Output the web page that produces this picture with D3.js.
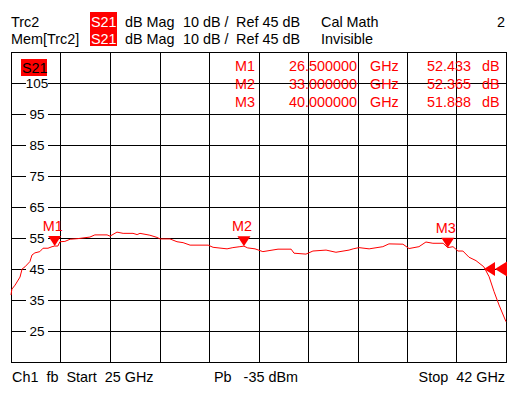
<!DOCTYPE html>
<html><head><meta charset="utf-8">
<script src="https://cdn.jsdelivr.net/npm/d3@7"></script>
<style>
body{margin:0;background:#fff;}
svg{display:block;font-family:"Liberation Sans",Arial,sans-serif;}
</style></head>
<body><svg id="c" width="512" height="396"></svg>
<script>
// ---- data ----
const freqGHz = [25.00,25.03,25.14,25.31,25.38,25.48,25.65,25.72,25.82,25.99,26.10,26.27,26.41,26.50,26.61,26.68,26.85,27.03,27.30,27.71,27.88,28.30,28.40,28.64,28.85,29.19,29.33,29.43,29.77,30.01,30.12,30.46,30.70,30.91,31.15,31.77,31.94,32.42,32.62,32.86,33.00,33.13,33.38,33.65,34.17,34.62,34.72,35.13,35.37,35.82,36.16,36.61,36.75,36.95,37.30,37.77,37.98,38.46,38.67,39.01,39.25,39.49,39.84,40.00,40.18,40.35,40.52,40.73,40.97,41.24,41.42,41.59,41.76,42.00];
const traceDb = [36.6,38.5,39.8,42.4,45.0,45.7,47.4,49.5,50.2,50.6,51.7,51.7,52.2,52.4,52.4,53.8,53.9,54.6,54.8,55.3,56.0,56.0,55.6,56.9,56.5,56.5,56.1,56.5,55.9,55.2,54.7,54.7,53.8,53.5,52.7,52.7,52.0,51.5,51.9,52.2,52.37,51.8,51.5,50.6,51.4,51.4,50.1,49.8,50.8,51.1,50.4,51.1,51.5,51.9,51.5,52.2,53.1,53.0,51.6,52.2,53.7,53.3,53.3,51.89,52.2,50.8,50.8,48.8,47.7,45.7,42.5,37.7,33.4,28.0];
const markerNames = ["M1","M2","M3"];
const markerFreq = [26.5,33.0,40.0];
const markerDb = [52.433,52.365,51.888];
const markerFreqText = ["26.500000","33.000000","40.000000"];
const markerDbText = ["52.433","52.365","51.888"];
const yTicks = [105,95,85,75,65,55,45,35,25];
const refLevel = 45;
const startGHz = 25, stopGHz = 42;

// ---- drawing ----
const svg = d3.select("#c");
const red = "#ff0000";
const x = d3.scaleLinear().domain([startGHz, stopGHz]).range([11, 506]);
const y = d3.scaleLinear().domain([15, 115]).range([362, 52]);
const fs = "14.4px";

// header
const hdr = svg.append("g").attr("font-size", fs);
[[27,"Trc2","Cal Math"],[44,"Mem[Trc2]","Invisible"]].forEach(([by,name,st])=>{
  hdr.append("text").attr("x",11).attr("y",by).text(name);
  hdr.append("rect").attr("x",90).attr("y",by-15).attr("width",27).attr("height",17).attr("fill",red);
  hdr.append("text").attr("x",91).attr("y",by).attr("fill","#fff").text("S21");
  hdr.append("text").attr("x",125).attr("y",by).text("dB Mag");
  hdr.append("text").attr("x",183).attr("y",by).text("10 dB /");
  hdr.append("text").attr("x",236).attr("y",by).text("Ref 45 dB");
  hdr.append("text").attr("x",321).attr("y",by).text(st);
});
hdr.append("text").attr("x",505).attr("y",27).attr("text-anchor","end").text("2");

// grid
const g = svg.append("g").attr("shape-rendering","crispEdges");
const vTicks = d3.range(0,11).map(i=>startGHz + i*(stopGHz-startGHz)/10);
g.selectAll("line.v").data(vTicks).join("line")
  .attr("x1",d=>Math.round(x(d))+0.5).attr("x2",d=>Math.round(x(d))+0.5)
  .attr("y1",y(115)).attr("y2",y(15)).attr("stroke","#000");
const hTicks = d3.range(15,116,10);
g.selectAll("line.h").data(hTicks).join("line")
  .attr("x1",x(startGHz)).attr("x2",x(stopGHz)+1)
  .attr("y1",d=>Math.round(y(d))+0.5).attr("y2",d=>Math.round(y(d))+0.5).attr("stroke","#000");

// y labels
const yl = svg.append("g").attr("font-size","13.5px");
yl.selectAll("rect").data(yTicks).join("rect")
  .attr("x",26).attr("y",d=>y(d)-3).attr("width",22).attr("height",6).attr("fill","#fff");
yl.selectAll("text").data(yTicks).join("text")
  .attr("x",37).attr("y",d=>y(d)+5).attr("text-anchor","middle").text(d=>d);

// S21 badge in plot
svg.append("rect").attr("x",21).attr("y",59).attr("width",26).attr("height",17).attr("fill",red);
svg.append("text").attr("x",22).attr("y",73).attr("font-size",fs).text("S21");

// marker table
const mt = svg.append("g").attr("font-size",fs).attr("fill",red);
markerNames.forEach((m,i)=>{
  const by = 71 + i*18;
  mt.append("text").attr("x",255).attr("y",by).attr("text-anchor","end").text(m);
  mt.append("text").attr("x",357).attr("y",by).attr("text-anchor","end").text(markerFreqText[i]);
  mt.append("text").attr("x",370).attr("y",by).text("GHz");
  mt.append("text").attr("x",471).attr("y",by).attr("text-anchor","end").text(markerDbText[i]);
  mt.append("text").attr("x",482).attr("y",by).text("dB");
});

// trace
const pts = freqGHz.map((f,i)=>[f,traceDb[i]]);
svg.append("path").datum(pts)
  .attr("d", d3.line().x(d=>x(d[0])).y(d=>y(d[1])))
  .attr("fill","none").attr("stroke",red).attr("stroke-width",1);

// markers
markerFreq.forEach((f,i)=>{
  const mx = x(f), my = y(markerDb[i]);
  svg.append("path").attr("d",`M${mx-6.5},${my-10}L${mx+6.5},${my-10}L${mx},${my}Z`).attr("fill",red);
  svg.append("text").attr("x",mx-2).attr("y",my-15).attr("text-anchor","middle")
    .attr("font-size",fs).attr("fill",red).text(markerNames[i]);
});

// reference level arrows
const ry = y(refLevel);
svg.append("path").attr("d",`M484,${ry}L495,${ry-7}L495,${ry+7}Z`).attr("fill",red);
svg.append("path").attr("d",`M495,${ry}L507,${ry-7.5}L507,${ry+7.5}Z`).attr("fill",red);

// footer
const ft = svg.append("g").attr("font-size",fs);
ft.append("text").attr("x",12).attr("y",382).attr("xml:space","preserve").text("Ch1  fb  Start  25 GHz");
ft.append("text").attr("x",214).attr("y",382).attr("xml:space","preserve").text("Pb   -35 dBm");
ft.append("text").attr("x",505).attr("y",382).attr("text-anchor","end").attr("xml:space","preserve").text("Stop  42 GHz");
</script></body></html>
